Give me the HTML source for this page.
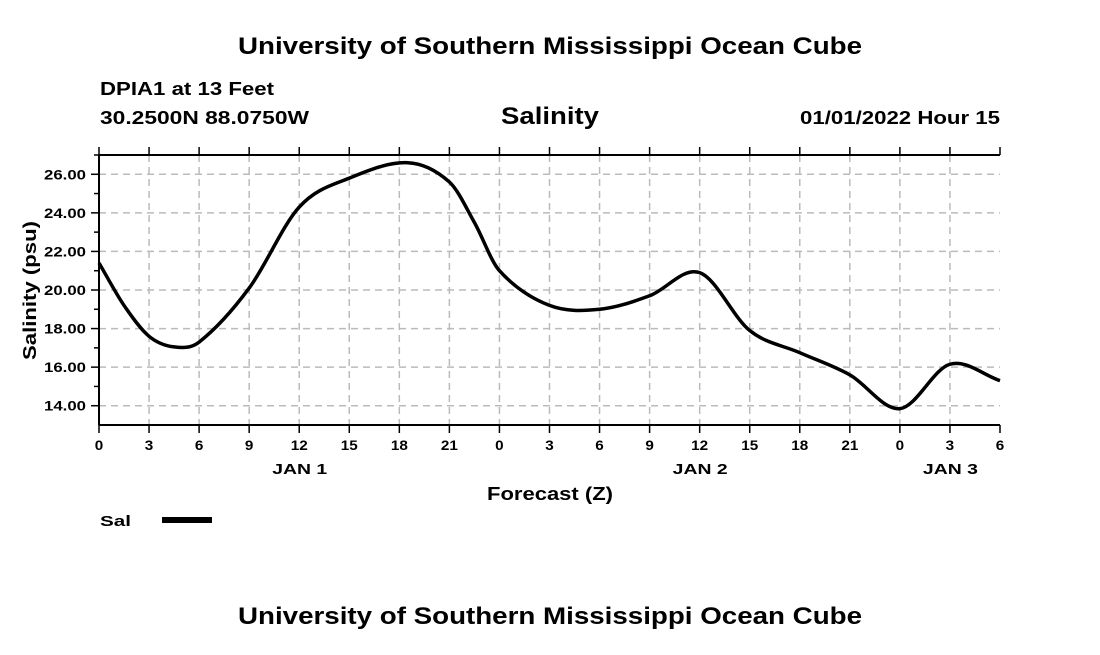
<!DOCTYPE html>
<html><head><meta charset="utf-8"><style>
body{margin:0;background:#fff;width:1100px;height:650px;overflow:hidden}
svg{font-family:"Liberation Sans",sans-serif;font-weight:bold}
</style></head><body>
<svg width="1100" height="650">
<text x="238" y="54" font-size="24" textLength="624" lengthAdjust="spacingAndGlyphs">University of Southern Mississippi Ocean Cube</text>
<text x="100" y="95" font-size="18" textLength="174" lengthAdjust="spacingAndGlyphs">DPIA1 at 13 Feet</text>
<text x="100" y="124" font-size="18" textLength="209" lengthAdjust="spacingAndGlyphs">30.2500N  88.0750W</text>
<text x="501" y="124" font-size="24" textLength="98" lengthAdjust="spacingAndGlyphs">Salinity</text>
<text x="800" y="124" font-size="18" textLength="200" lengthAdjust="spacingAndGlyphs">01/01/2022 Hour 15</text>
<g id="grid"></g>
<g id="axes"></g>
<path id="line" fill="none" stroke="#000" stroke-width="3.5" stroke-linejoin="round"/>
<text x="36" y="360" transform="rotate(-90 36 360)" font-size="18" textLength="139" lengthAdjust="spacingAndGlyphs">Salinity (psu)</text>
<text x="487" y="500" font-size="18" textLength="126" lengthAdjust="spacingAndGlyphs">Forecast (Z)</text>
<text x="100" y="526" font-size="15" textLength="31" lengthAdjust="spacingAndGlyphs">Sal</text>
<line x1="162" y1="520" x2="212" y2="520" stroke="#000" stroke-width="6"/>
<text x="238" y="624" font-size="24" textLength="624" lengthAdjust="spacingAndGlyphs">University of Southern Mississippi Ocean Cube</text>
</svg>
<script>
const hours=[0,1.5,3,4.5,6,9,12,15,18.5,21,22.5,24,27,30,33,36,39,42,45,48,51,54];
const salinity=[21.4,19.2,17.6,17.05,17.3,20.1,24.3,25.8,26.6,25.6,23.5,21.0,19.2,19.0,19.7,20.9,17.9,16.75,15.6,13.85,16.15,15.3];
const xTickLabels=["0","3","6","9","12","15","18","21","0","3","6","9","12","15","18","21","0","3","6"];
const yTicks=[14,16,18,20,22,24,26];
const dayLabels=["JAN 1","JAN 2","JAN 3"];
const dayHours=[12,36,51];
const X0=99,X1=1000,Y0=155,Y1=425,XMIN=0,XMAX=54,YMIN=13,YMAX=27;
const xs=h=>X0+(h-XMIN)/(XMAX-XMIN)*(X1-X0);
const ys=v=>Y1-(v-YMIN)/(YMAX-YMIN)*(Y1-Y0);
const NS="http://www.w3.org/2000/svg";
const grid=document.getElementById('grid'),axes=document.getElementById('axes');
function mk(p,tag,at){const e=document.createElementNS(NS,tag);for(const k in at)e.setAttribute(k,at[k]);p.appendChild(e);return e;}
xTickLabels.forEach((l,i)=>{const x=xs(i*3);
 if(i>0&&i<xTickLabels.length-1){const g=mk(grid,'line',{x1:x,x2:x,y1:Y0,y2:Y1,stroke:'#bbb','stroke-width':1.5,'stroke-dasharray':'7,5'});
 
 }
 const t=mk(axes,'line',{x1:x,x2:x,y1:Y0-8,y2:Y0,stroke:'#000','stroke-width':1.5});
 
 
 const tb=mk(axes,'line',{x1:x,x2:x,y1:Y1,y2:Y1+8,stroke:'#000','stroke-width':1.5});
 
 
 const w=l.length*8.5;
 const tx=mk(axes,'text',{x:x-w/2,y:450,'font-size':14,textLength:w,lengthAdjust:'spacingAndGlyphs'});tx.textContent=l;
 
 
});
dayLabels.forEach((l,i)=>{const tx=mk(axes,'text',{x:xs(dayHours[i])-27,y:474,'font-size':15,textLength:55,lengthAdjust:'spacingAndGlyphs'});tx.textContent=l;
 
 });
yTicks.forEach(v=>{const y=ys(v);
 const g=mk(grid,'line',{x1:X0,x2:X1,y1:y,y2:y,stroke:'#bbb','stroke-width':1.5,'stroke-dasharray':'7,5'});
 
 
 const t=mk(axes,'line',{x1:X0-8,x2:X0,y1:y,y2:y,stroke:'#000','stroke-width':1.5});
 
 
 const m=mk(axes,'line',{x1:X0-5,x2:X0,y1:ys(v+1),y2:ys(v+1),stroke:'#000','stroke-width':1.5});
 
 
 const tx=mk(axes,'text',{x:44,y:y+5,'font-size':14,textLength:42,lengthAdjust:'spacingAndGlyphs'});tx.textContent=v.toFixed(2);
 
 
});
[[X0,Y0,X1,Y0],[X0,Y0,X0,Y1],[X0,Y1,X1,Y1]].forEach(a=>{const l=mk(axes,'line',{x1:a[0],y1:a[1],x2:a[2],y2:a[3],stroke:'#000','stroke-width':2});
 
 });
const P=hours.map((h,i)=>[xs(h),ys(salinity[i])]);
const n=P.length;
const M=P.map((p,i)=>{const a=P[Math.max(0,i-1)],b=P[Math.min(n-1,i+1)];return (b[1]-a[1])/(b[0]-a[0]);});
let d='M'+P[0][0]+','+P[0][1];
for(let i=0;i<n-1;i++){const p1=P[i],p2=P[i+1],dx=(p2[0]-p1[0])/3;
 d+=' C'+(p1[0]+dx)+','+(p1[1]+M[i]*dx)+' '+(p2[0]-dx)+','+(p2[1]-M[i+1]*dx)+' '+p2[0]+','+p2[1];}
document.getElementById('line').setAttribute('d',d);
</script>
</body></html>
